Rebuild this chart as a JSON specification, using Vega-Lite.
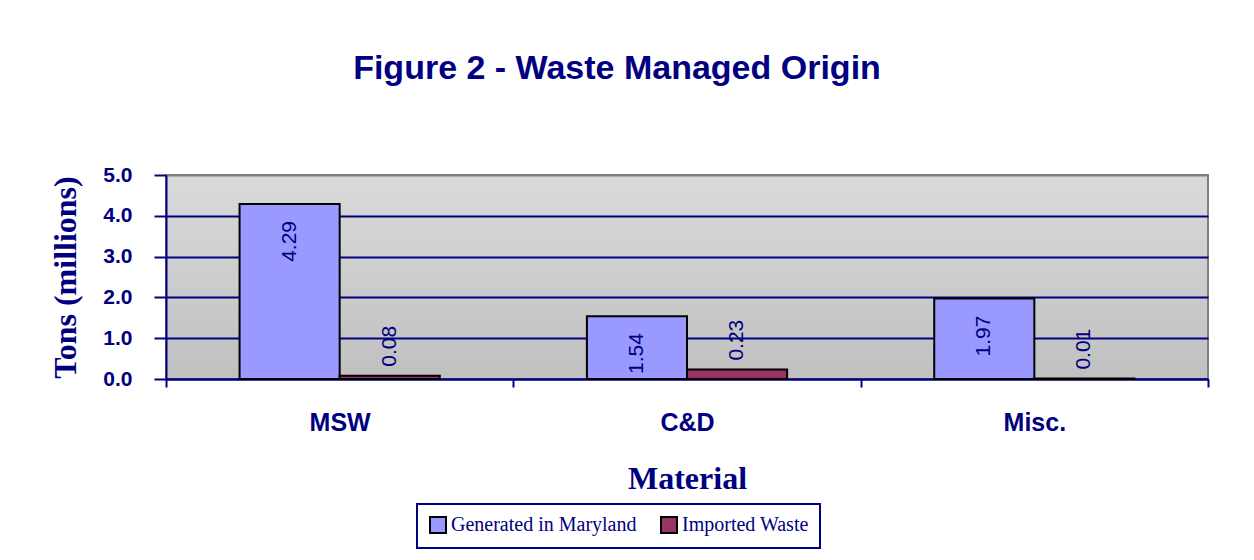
{
  "$schema": "https://vega.github.io/schema/vega-lite/v6.json",
  "width": 1042,
  "height": 204,
  "autosize": {"type": "none"},
  "padding": {"left": 166, "top": 175, "right": 46, "bottom": 181},
  "background": "white",
  "title": {
    "text": "Figure 2 - Waste Managed Origin",
    "font": "Liberation Sans",
    "fontWeight": "bold",
    "fontSize": 34,
    "color": "#000080",
    "anchor": "middle",
    "dx": -70,
    "offset": 78
  },
  "data": {
    "values": [
      {"material": "MSW", "series": "Generated in Maryland", "tons": 4.29},
      {"material": "MSW", "series": "Imported Waste", "tons": 0.08},
      {"material": "C&D", "series": "Generated in Maryland", "tons": 1.54},
      {"material": "C&D", "series": "Imported Waste", "tons": 0.23},
      {"material": "Misc.", "series": "Generated in Maryland", "tons": 1.97},
      {"material": "Misc.", "series": "Imported Waste", "tons": 0.01}
    ]
  },
  "encoding": {
    "x": {
      "field": "material",
      "type": "nominal",
      "sort": ["MSW", "C&D", "Misc."],
      "scale": {"paddingInner": 0, "paddingOuter": 0},
      "axis": {
        "title": "Material",
        "titleFont": "Liberation Serif",
        "titleFontSize": 32,
        "titleFontWeight": "bold",
        "titleColor": "#000080",
        "titlePadding": 28,
        "labelFont": "Liberation Sans",
        "labelFontSize": 25,
        "labelFontWeight": "bold",
        "labelColor": "#000080",
        "labelAngle": 0,
        "labelPadding": 23,
        "tickBand": "extent",
        "tickSize": 8,
        "tickColor": "#000080",
        "tickWidth": 2,
        "domainColor": "#000080",
        "domainWidth": 2,
        "grid": false
      }
    },
    "xOffset": {
      "field": "series",
      "type": "nominal",
      "scale": {"paddingInner": 0, "paddingOuter": 0.735}
    },
    "y": {
      "field": "tons",
      "type": "quantitative",
      "scale": {"domain": [0, 5]},
      "axis": {
        "title": "Tons (millions)",
        "titleFont": "Liberation Serif",
        "titleFontSize": 32,
        "titleFontWeight": "bold",
        "titleColor": "#000080",
        "titlePadding": 20,
        "values": [0, 1, 2, 3, 4, 5],
        "format": ".1f",
        "labelFont": "Liberation Sans",
        "labelFontSize": 21,
        "labelFontWeight": "bold",
        "labelColor": "#000080",
        "labelPadding": 22,
        "tickSize": 12,
        "tickColor": "#000080",
        "tickWidth": 2,
        "domainColor": "#000080",
        "domainWidth": 2,
        "grid": true,
        "gridColor": {"condition": {"test": "datum.value === 5", "value": "#808080"}, "value": "#000080"},
        "gridWidth": 2
      }
    }
  },
  "layer": [
    {
      "mark": {"type": "bar", "stroke": "black", "strokeWidth": 2},
      "encoding": {
        "color": {
          "field": "series",
          "type": "nominal",
          "scale": {"domain": ["Generated in Maryland", "Imported Waste"], "range": ["#9999FF", "#993366"]},
          "legend": {
            "orient": "none",
            "legendX": 251,
            "legendY": 329,
            "direction": "horizontal",
            "title": null,
            "labelFont": "Liberation Serif",
            "labelFontSize": 20,
            "labelColor": "#000080",
            "labelLimit": 400,
            "labelOffset": 3,
            "symbolType": "square",
            "symbolSize": 256,
            "symbolStrokeColor": "black",
            "symbolStrokeWidth": 2,
            "strokeColor": "#000080",
            "padding": 11,
            "columnPadding": 20
          }
        }
      }
    },
    {
      "transform": [{"filter": "datum.series === 'Generated in Maryland'"}],
      "mark": {"type": "text", "angle": 270, "align": "right", "baseline": "middle", "dx": -17, "font": "Liberation Sans", "fontSize": 21, "color": "#000080"},
      "encoding": {"text": {"field": "tons", "type": "quantitative", "format": ".2f"}}
    },
    {
      "transform": [{"filter": "datum.series === 'Imported Waste'"}],
      "mark": {"type": "text", "angle": 270, "align": "left", "baseline": "middle", "dx": 9, "font": "Liberation Sans", "fontSize": 21, "color": "#000080"},
      "encoding": {"text": {"field": "tons", "type": "quantitative", "format": ".2f"}}
    }
  ],
  "config": {
    "view": {
      "stroke": "#808080",
      "strokeWidth": 2,
      "fill": {
        "gradient": "linear",
        "x1": 0, "y1": 0, "x2": 0, "y2": 1,
        "stops": [{"offset": 0, "color": "#DADADA"}, {"offset": 1, "color": "#C0C0C0"}]
      }
    },
    "legend": {"strokeWidth": 2}
  }
}
